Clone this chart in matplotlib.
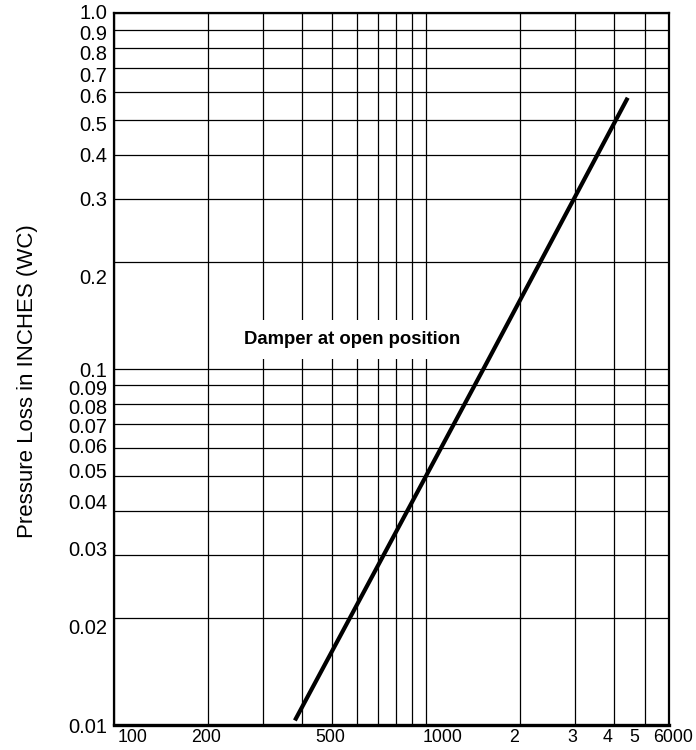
import matplotlib
matplotlib.use("Agg")
import matplotlib.pyplot as plt
import numpy as np

plt.rcParams['font.family'] = ['Liberation Sans', 'DejaVu Sans']

# damper curve (flow, pressure loss in inches WC)
flow = [379, 1522, 4416]
loss = [0.0103, 0.1, 0.579]

# axis labels as printed (they sit a bit off the grid in the original)
x_labels = ["100", "200", "500", "1000", "2", "3", "4", "5", "6000"]
x_label_pos = [114.8, 196.7, 491, 1130, 1909, 2928, 3818, 4627, 6169]
y_labels = ["1.0", "0.9", "0.8", "0.7", "0.6", "0.5", "0.4", "0.3", "0.2",
            "0.1", "0.09", "0.08", "0.07", "0.06", "0.05", "0.04", "0.03",
            "0.02", "0.01"]
y_label_pos = [0.9955, 0.869, 0.7635, 0.6622, 0.578, 0.4825, 0.3946, 0.2969,
               0.1792, 0.09836, 0.08738, 0.07774, 0.06877, 0.06005, 0.0514,
               0.04206, 0.03102, 0.01873, 0.00987]

fig = plt.figure(figsize=(6.96, 7.5), dpi=100)
ax = fig.add_axes([0.1642, 0.0333, 0.7974, 0.949])
ax.set_xscale("log")
ax.set_yscale("log")
ax.set_xlim(100, 6000)
ax.set_ylim(0.01, 1.0)

ax.grid(True, which="both", color="black", linewidth=0.9)
ax.tick_params(which="both", length=0, labelbottom=False, labelleft=False)
for s in ax.spines.values():
    s.set_linewidth(1.6)
ax.spines["bottom"].set_linewidth(2.4)

ax.plot(flow, loss, color="black", linewidth=3.0, solid_capstyle="butt",
        zorder=6)

# label with a white patch that cuts the grid lines behind it
ax.text(577, 0.121, "Damper at open position", fontsize=13.3,
        fontweight="bold", ha="center", va="center", zorder=5,
        bbox=dict(facecolor="white", edgecolor="none", pad=8))

xt = ax.get_xaxis_transform()
for lab, pos in zip(x_labels, x_label_pos):
    ax.text(pos, -0.0169, lab, transform=xt, fontsize=12.8,
            ha="center", va="center", clip_on=False)

yt = ax.get_yaxis_transform()
for lab, pos in zip(y_labels, y_label_pos):
    ax.text(-0.0132, pos, lab, transform=yt, fontsize=14.5,
            ha="right", va="center", clip_on=False)

fig.text(28 / 696, 1 - 381 / 750, "Pressure Loss in INCHES (WC)",
         rotation=90, fontsize=16, ha="center", va="center")

fig.savefig("out.png", dpi=100)
